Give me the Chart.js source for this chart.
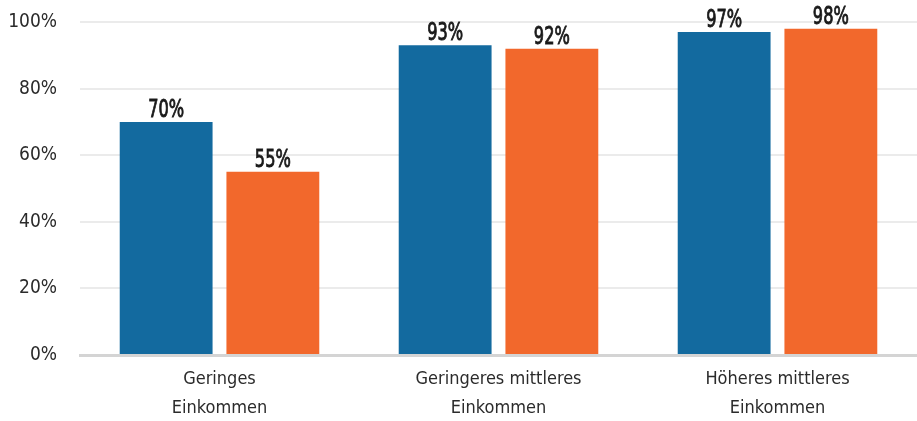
<!DOCTYPE html>
<html>
<head>
<meta charset="utf-8">
<script src="https://cdn.jsdelivr.net/npm/chart.js@4"></script>
<style>
  html, body { margin: 0; padding: 0; background: #fff; }
  #wrap { width: 917px; height: 421px; }
</style>
</head>
<body>
<div id="wrap"><canvas id="chart"></canvas></div>
<script>
const categories = [['Geringes', 'Einkommen'], ['Geringeres mittleres', 'Einkommen'], ['Höheres mittleres', 'Einkommen']];
const seriesA = [70, 93, 97];
const seriesB = [55, 92, 98];
const yTicks = [0, 20, 40, 60, 80, 100];

const FONT = "'DejaVu Sans Condensed', 'Roboto Condensed', 'Liberation Sans Narrow', Roboto, sans-serif";

// draws the value above every bar, squeezed to look like a narrow face
const valueLabels = {
  id: 'valueLabels',
  afterDatasetsDraw(chart) {
    const ctx = chart.ctx;
    chart.data.datasets.forEach((ds, i) => {
      chart.getDatasetMeta(i).data.forEach((bar, j) => {
        ctx.save();
        ctx.translate(bar.x, bar.y - 5);
        ctx.scale(0.72, 1);
        ctx.font = '25px ' + FONT;
        ctx.fillStyle = '#1a1a1a';
        ctx.strokeStyle = '#1a1a1a';
        ctx.lineWidth = 0.9;
        ctx.textAlign = 'center';
        ctx.textBaseline = 'alphabetic';
        ctx.fillText(ds.data[j] + '%', 0, 0);
        ctx.strokeText(ds.data[j] + '%', 0, 0);
        ctx.restore();
      });
    });
  }
};

new Chart(document.getElementById('chart').getContext('2d'), {
  type: 'bar',
  data: {
    labels: categories,
    datasets: [
      { data: seriesA, backgroundColor: '#136a9f', categoryPercentage: 0.765, barPercentage: 0.87 },
      { data: seriesB, backgroundColor: '#f2682c', categoryPercentage: 0.765, barPercentage: 0.87 }
    ]
  },
  options: {
    responsive: true,
    maintainAspectRatio: false,
    animation: false,
    layout: { padding: { top: 22, right: -3, left: 0, bottom: 0 } },
    plugins: {
      legend: { display: false },
      tooltip: { enabled: false }
    },
    scales: {
      x: {
        afterFit(axis) {
          axis.height = 66;
        },
        grid: { display: false, drawTicks: false },
        border: { color: '#d4d4d4', width: 3 },
        ticks: {
          color: '#2b2b2b',
          font: { family: FONT, size: 18, lineHeight: 1.65 },
          padding: 9
        }
      },
      y: {
        min: 0,
        max: 100,
        afterBuildTicks(axis) {
          axis.ticks = yTicks.map(v => ({ value: v }));
        },
        afterFit(axis) {
          axis.width = 80;
          axis.paddingTop = 0;
        },
        grid: { color: '#ebebeb', lineWidth: 2, drawTicks: false },
        border: { display: false },
        ticks: {
          color: '#2b2b2b',
          font: { family: FONT, size: 19 },
          padding: 23,
          callback: v => v + '%'
        }
      }
    }
  },
  plugins: [valueLabels]
});
</script>
</body>
</html>
